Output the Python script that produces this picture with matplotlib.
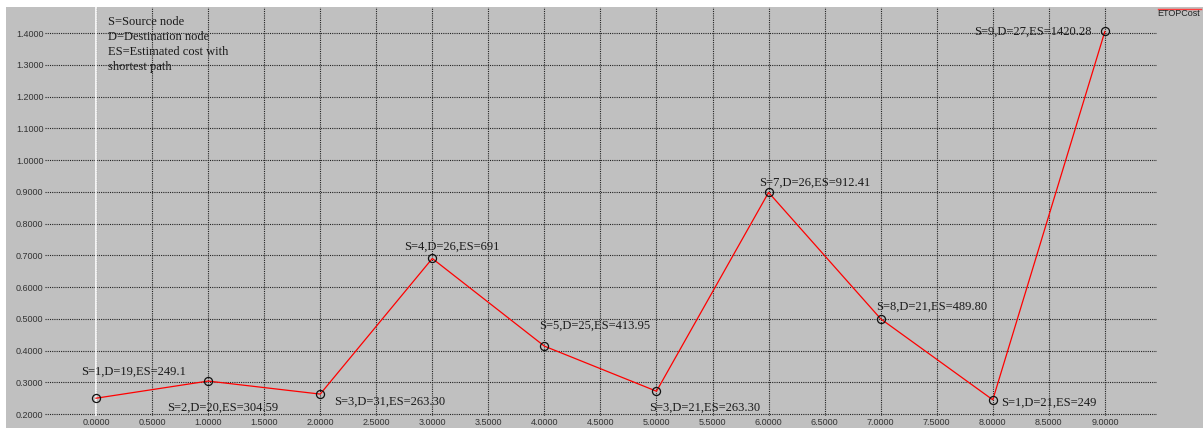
import matplotlib
matplotlib.use("Agg")
import matplotlib.pyplot as plt
from matplotlib.lines import Line2D
from matplotlib.patches import Rectangle
import numpy as np

# data
x_vals = [0, 1, 2, 3, 4, 5, 6, 7, 8, 9]
cost = [0.250, 0.304, 0.263, 0.690, 0.414, 0.272, 0.898, 0.500, 0.245, 1.405]
point_labels = [
    "S=1,D=19,ES=249.1",
    "S=2,D=20,ES=304.59",
    "S=3,D=31,ES=263.30",
    "S=4,D=26,ES=691",
    "S=5,D=25,ES=413.95",
    "S=3,D=21,ES=263.30",
    "S=7,D=26,ES=912.41",
    "S=8,D=21,ES=489.80",
    "S=1,D=21,ES=249",
    "S=9,D=27,ES=1420.28",
]
x_ticks = np.arange(0, 9.01, 0.5)
y_ticks = np.arange(0.2, 1.401, 0.1)
note_lines = ["S=Source node", "D=Destination node", "ES=Estimated cost with", "shortest path"]
series_name = "ETOPCost"

# label offsets in pixels (left edge of text, vertical centre) relative to each point
offsets = [(-15, 26), (-41, -27), (14, -8), (-28, 12), (-5, 20),
           (-7, -17), (-9, 10), (-5, 12), (8, -3), (-13, 0)]

W, H = 1203, 428
bg = "#c0c0c0"
fig = plt.figure(figsize=(W / 100, H / 100), dpi=100, facecolor=bg)
fig.patches.append(Rectangle((0, 1 - 7 / H), 1, 7 / H, transform=fig.transFigure,
                             facecolor="white", edgecolor="none"))
fig.patches.append(Rectangle((0, 0), 6 / W, 1, transform=fig.transFigure,
                             facecolor="white", edgecolor="none"))

left, right, top, bottom = 45, 1157, 7, 416
ax = fig.add_axes([left / W, 1 - bottom / H, (right - left) / W, (bottom - top) / H])
ax.set_facecolor(bg)
for s in ax.spines.values():
    s.set_visible(False)

ax.set_xlim(-0.455, 9.465)
ax.set_ylim(0.194, 1.482)
ax.set_xticks(x_ticks)
ax.set_yticks(y_ticks)
ax.set_xticklabels(["%.4f" % v for v in x_ticks])
ax.set_yticklabels(["%.4f" % v for v in y_ticks])
ax.tick_params(axis="both", length=0, labelsize=6.5, labelcolor="#333333",
               labelfontfamily="Liberation Sans")
ax.tick_params(axis="x", pad=1.2)
ax.tick_params(axis="y", pad=1)
ax.grid(True, color="#222222", linestyle=(0, (1, 1)), linewidth=0.8)
ax.set_axisbelow(True)
ax.axvline(0, color="white", linewidth=1.2, zorder=1.5)

ax.plot(x_vals, cost, color="#ff0000", linewidth=0.9, zorder=3)
ax.plot(x_vals, cost, linestyle="none", marker="o", markersize=5.8,
        markerfacecolor="none", markeredgecolor="#111111", markeredgewidth=0.9, zorder=4)

for i, (xv, yv, lab) in enumerate(zip(x_vals, cost, point_labels)):
    dx, dy = offsets[i]
    ha = "right" if i == len(x_vals) - 1 else "left"
    ax.annotate(lab, (xv, yv), xytext=(dx, dy), textcoords="offset pixels",
                ha=ha, va="center", fontsize=9, family="Liberation Serif",
                color="#1a1a1a", zorder=5)

# note block at top left
for k, line in enumerate(note_lines):
    fig.text(108 / W, 1 - (22 + 15 * k) / H, line, ha="left", va="center",
             fontsize=9, family="Liberation Serif", color="#1a1a1a")

# series key at top right, line drawn above the text
fig.lines.append(Line2D([1158 / W, 1201 / W], [1 - 9 / H, 1 - 9 / H],
                        transform=fig.transFigure, color="#ff4040", linewidth=1))
fig.text(1200 / W, 1 - 14 / H, series_name, ha="right", va="center",
         fontsize=6.5, family="Liberation Sans", color="#222222")

fig.savefig("out.png", dpi=100, facecolor=bg)
